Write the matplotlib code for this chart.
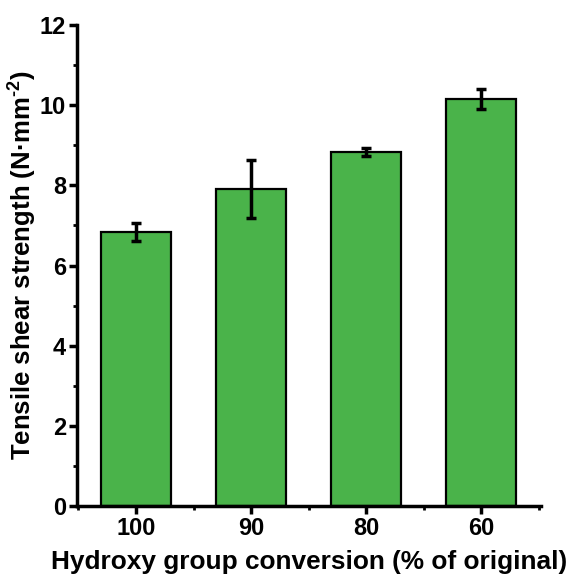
import matplotlib
matplotlib.use("Agg")
import matplotlib.pyplot as plt
import numpy as np
from matplotlib.ticker import MultipleLocator

plt.rcParams["font.family"] = ["Liberation Sans", "DejaVu Sans"]
plt.rcParams["font.weight"] = "bold"
plt.rcParams["mathtext.fontset"] = "custom"
plt.rcParams["mathtext.bf"] = "Liberation Sans:bold"
plt.rcParams["mathtext.rm"] = "Liberation Sans:bold"

categories = ["100", "90", "80", "60"]
strength = [6.84, 7.90, 8.83, 10.15]
strength_err = [0.22, 0.72, 0.10, 0.25]

fig = plt.figure(figsize=(5.72, 5.74), dpi=100)
ax = fig.add_axes([0.1346, 0.1185, 0.8112, 0.8379])

x = np.arange(len(categories))
ax.bar(x, strength, width=0.61, color="#4AB34A", edgecolor="black", linewidth=1.6,
       yerr=strength_err, capsize=3.5,
       error_kw=dict(elinewidth=2.5, capthick=2.5, ecolor="black"), zorder=2)

ax.set_xlim(-0.513, 3.52)
ax.set_ylim(0, 12)
ax.set_xticks(x)
ax.set_xticklabels(categories)
ax.xaxis.set_minor_locator(MultipleLocator(1, offset=0.5))
ax.yaxis.set_major_locator(MultipleLocator(2))
ax.yaxis.set_minor_locator(MultipleLocator(1))

for side in ["top", "right"]:
    ax.spines[side].set_visible(False)
for side in ["left", "bottom"]:
    ax.spines[side].set_linewidth(2.5)

ax.tick_params(which="major", direction="out", length=6, width=2.5, labelsize=17, pad=2)
ax.tick_params(which="minor", direction="out", length=3, width=2)

ax.set_xlabel("Hydroxy group conversion (% of original)", fontsize=18.9, fontweight="bold", labelpad=7)
ax.set_ylabel("Tensile shear strength (N·mm$^{\\mathbf{\u2010}\\mathbf{2}}$)", fontsize=18.5,
              fontweight="bold", labelpad=1)

fig.savefig("out.png", dpi=100)
